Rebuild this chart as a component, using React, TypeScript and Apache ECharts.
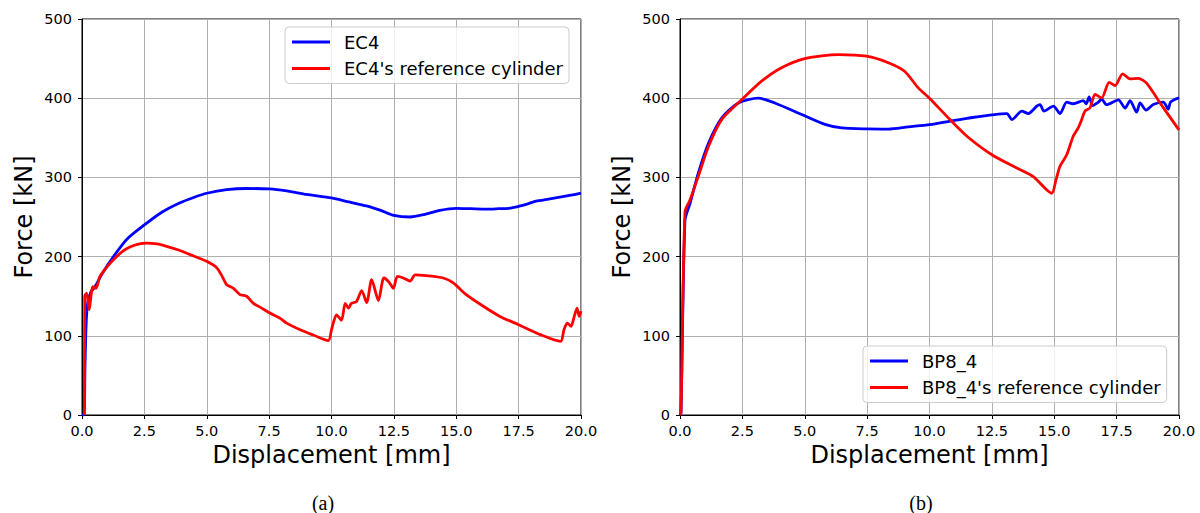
import React, { useEffect, useRef } from "react";
import * as echarts from "echarts";

// EC4 test (left panel), [displacement mm, force kN]
const ec4: [number, number][] = [
  [0.0, 0], [0.08, 0], [0.12, 60], [0.16, 110], [0.22, 140], [0.35, 155], [0.52, 162], [0.8, 178],
  [1.26, 200], [1.8, 222], [2.5, 240], [3.2, 256], [3.93, 268], [4.5, 275], [5.0, 280],
  [5.8, 284.5], [6.6, 286], [7.5, 285.5], [8.2, 283], [9.0, 278.5], [10.0, 274],
  [10.7, 269], [11.4, 264], [12.0, 258], [12.5, 252], [13.14, 250], [13.7, 253],
  [14.35, 258.5], [15.0, 261], [15.6, 260.5], [16.2, 260], [16.7, 260.5], [17.1, 261],
  [17.5, 263.5], [17.9, 267], [18.2, 270], [18.7, 272.5], [19.15, 275], [19.6, 277.5], [20.0, 280],
];

const ec4Ref: [number, number][] = [
  [0.1, 0], [0.11, 150], [0.19, 154], [0.29, 133], [0.36, 150], [0.43, 162], [0.56, 160],
  [0.72, 175], [1.0, 187], [1.26, 196], [1.6, 206], [1.92, 212], [2.3, 216], [2.59, 217],
  [3.0, 216], [3.39, 213], [3.9, 208], [4.33, 202.5], [4.7, 198], [5.0, 194], [5.4, 186],
  [5.6, 176], [5.8, 164.5], [6.07, 160], [6.33, 152], [6.6, 150], [6.87, 141], [7.2, 135],
  [7.53, 128.7], [7.94, 122], [8.2, 116], [8.74, 107.6], [9.27, 101], [9.87, 94],
  [10.0, 107.6], [10.07, 116], [10.2, 126.5], [10.4, 119.5], [10.55, 141], [10.68, 135],
  [10.8, 141], [11.0, 143], [11.21, 157], [11.41, 142], [11.61, 171], [11.88, 144.5],
  [12.1, 173], [12.3, 168], [12.48, 160], [12.64, 175], [12.88, 173], [13.15, 169],
  [13.35, 177], [13.8, 176], [14.48, 173], [14.88, 166.7], [15.4, 152], [16.1, 137],
  [16.75, 124.5], [17.5, 114], [18.37, 101.5], [19.18, 93], [19.32, 108], [19.45, 116],
  [19.6, 112], [19.73, 124.5], [19.84, 135], [19.93, 124.5], [20.0, 131],
];

// BP8_4 test (right panel)
const bp84: [number, number][] = [
  [0.0, 0], [0.04, 3], [0.2, 246], [0.4, 267], [0.73, 305], [1.14, 343], [1.67, 375],
  [2.34, 394], [3.14, 400], [3.8, 394], [4.88, 379.4], [5.81, 367], [6.48, 362.5],
  [7.48, 361.2], [8.35, 361], [9.15, 363.8], [10.0, 366.6], [11.5, 374.6], [13.1, 380.6],
  [13.3, 373], [13.7, 383.6], [13.96, 380.6], [14.3, 390], [14.43, 392], [14.59, 383.6],
  [14.97, 390], [15.23, 380.6], [15.5, 395], [15.76, 393], [16.17, 397], [16.28, 393],
  [16.4, 401.7], [16.54, 390.7], [16.77, 395], [16.9, 399], [17.1, 391.8], [17.57, 398],
  [17.84, 387.5], [18.04, 397], [18.3, 382.3], [18.44, 394], [18.68, 385], [18.97, 392],
  [19.37, 395], [19.57, 386], [19.66, 395], [20.0, 400.5],
];

const bp84Ref: [number, number][] = [
  [0.0, 0], [0.04, 3], [0.2, 256.9], [0.4, 271.5], [0.73, 301], [1.14, 339], [1.67, 373],
  [2.47, 398], [3.27, 421.5], [4.07, 438.5], [5.0, 450], [6.35, 455], [7.48, 453],
  [8.35, 444.8], [9.0, 434], [9.55, 413], [10.0, 400], [10.82, 373], [11.5, 352],
  [12.5, 328.6], [13.5, 311.8], [14.16, 301], [14.9, 280], [15.07, 297], [15.23, 314],
  [15.5, 328.6], [15.76, 352], [15.96, 362.5], [16.1, 373], [16.23, 383.6], [16.43, 387.8],
  [16.64, 404.7], [16.9, 400.4], [17.2, 420], [17.44, 416], [17.74, 430.8], [18.04, 424.4],
  [18.37, 425], [18.7, 419], [19.24, 394], [20.0, 360],
];

const xTickStep = 2.5;
const yTickStep = 100;
const captions = ["(a)", "(b)"];
const names = ["EC4", "EC4's reference cylinder", "BP8_4", "BP8_4's reference cylinder"];

const FONT = "DejaVu Sans";

function makeX(gridIndex: number) {
  return {
    type: "value",
    gridIndex,
    min: 0,
    max: 20,
    interval: xTickStep,
    name: "Displacement [mm]",
    nameLocation: "middle",
    nameGap: 28,
    nameTextStyle: { fontFamily: FONT, fontSize: 24, color: "#000" },
    axisLine: { show: true, onZero: false, lineStyle: { color: "#000", width: 1 } },
    axisTick: { show: true, length: 4, lineStyle: { color: "#000" } },
    axisLabel: {
      fontFamily: FONT, fontSize: 14.5, color: "#000", margin: 8,
      formatter: (v: number) => v.toFixed(1),
    },
    splitLine: { show: true, lineStyle: { color: "#b0b0b0", width: 1 } },
  };
}

function makeY(gridIndex: number) {
  return {
    type: "value",
    gridIndex,
    min: 0,
    max: 500,
    interval: yTickStep,
    name: "Force [kN]",
    nameLocation: "middle",
    nameGap: 46,
    nameTextStyle: { fontFamily: FONT, fontSize: 24, color: "#000" },
    axisLine: { show: true, onZero: false, lineStyle: { color: "#000", width: 1 } },
    axisTick: { show: true, length: 4, lineStyle: { color: "#000" } },
    axisLabel: { fontFamily: FONT, fontSize: 14.5, color: "#000", margin: 10 },
    splitLine: { show: true, lineStyle: { color: "#b0b0b0", width: 1 } },
  };
}

function makeLegend(data: string[], left: number, top: number) {
  return {
    data,
    left,
    top,
    orient: "vertical",
    icon: "rect",
    itemWidth: 38,
    itemHeight: 3,
    itemGap: 8.5,
    padding: [6, 6, 6, 7],
    borderColor: "#cccccc",
    borderWidth: 1,
    borderRadius: 4,
    backgroundColor: "rgba(255,255,255,0.8)",
    textStyle: { fontFamily: FONT, fontSize: 18, lineHeight: 18, color: "#000", padding: [0, 0, 0, 9] },
  };
}

function line(name: string, data: [number, number][], color: string, idx: number) {
  return {
    name,
    type: "line",
    xAxisIndex: idx,
    yAxisIndex: idx,
    data,
    showSymbol: false,
    symbol: "none",
    smooth: 0.25,
    lineStyle: { color, width: 2.8, join: "round" },
    itemStyle: { color },
    z: color === "#ff0000" ? 3 : 2,
  };
}

export default function App() {
  const ref = useRef<HTMLDivElement>(null);
  useEffect(() => {
    if (!ref.current) return;
    const chart = echarts.init(ref.current, undefined, { renderer: "svg" });
    chart.setOption({
      animation: false,
      backgroundColor: "#fff",
      grid: [
        { left: 82, top: 19, width: 499, height: 396, show: true, borderColor: "#000", borderWidth: 1, backgroundColor: "transparent" },
        { left: 680, top: 19, width: 499, height: 396, show: true, borderColor: "#000", borderWidth: 1, backgroundColor: "transparent" },
      ],
      xAxis: [makeX(0), makeX(1)],
      yAxis: [makeY(0), makeY(1)],
      legend: [
        makeLegend([names[0], names[1]], 285, 27),
        makeLegend([names[2], names[3]], 863, 346),
      ],
      series: [
        line(names[0], ec4, "#0000ff", 0),
        line(names[1], ec4Ref, "#ff0000", 0),
        line(names[2], bp84, "#0000ff", 1),
        line(names[3], bp84Ref, "#ff0000", 1),
      ],
      graphic: [
        { type: "text", x: 323, y: 503, style: { text: captions[0], fontFamily: "Liberation Serif", fontSize: 20, fill: "#000", align: "center", verticalAlign: "middle" } },
        { type: "text", x: 921, y: 503, style: { text: captions[1], fontFamily: "Liberation Serif", fontSize: 20, fill: "#000", align: "center", verticalAlign: "middle" } },
      ],
    });
    return () => chart.dispose();
  }, []);
  return (
    <div
      ref={ref}
      style={{ position: "fixed", left: 0, top: 0, width: 1200, height: 513 }}
    />
  );
}
